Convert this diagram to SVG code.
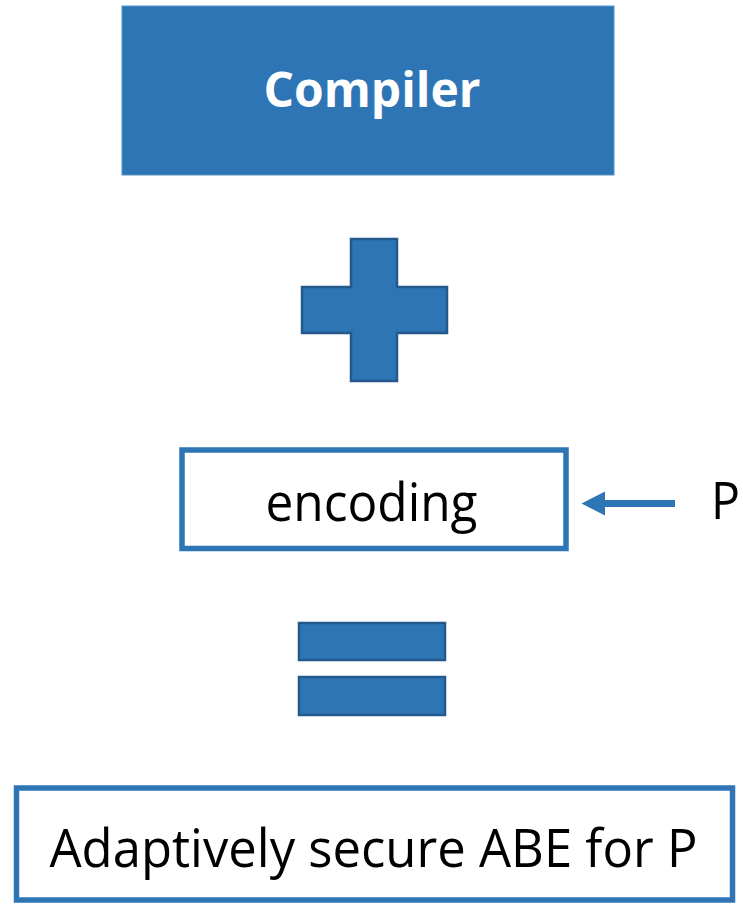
<svg xmlns="http://www.w3.org/2000/svg" width="743" height="905" viewBox="0 0 743 905">
  <style>
    .solid { fill: #2E75B6; }
    .sym { fill: #2E75B6; stroke: #23598B; stroke-width: 2.5; stroke-linejoin: miter; }
    .frame { fill: #FFFFFF; stroke: #2E75B6; stroke-width: 5.5; }
    .label { font-family: "Open Sans", "Noto Sans", "Liberation Sans", sans-serif; fill: #000000; }
    .title { font-family: "Open Sans", "Noto Sans", "Liberation Sans", sans-serif; font-weight: 700; fill: #FFFFFF; }
  </style>

  <rect x="0" y="0" width="743" height="905" fill="#FFFFFF"/>

  <!-- compiler block -->
  <g id="compiler">
    <rect class="solid" x="122" y="6" width="492" height="169" stroke="#5B93C7" stroke-width="1"/>
    <text class="title" x="372" y="107" font-size="48" text-anchor="middle" textLength="217" lengthAdjust="spacingAndGlyphs">Compiler</text>
  </g>

  <!-- plus sign -->
  <g id="plus">
    <path class="sym" d="M351,239 H397 V287 H447 V333 H397 V381 H351 V333 H302 V287 H351 Z"/>
  </g>

  <!-- encoding box -->
  <g id="encoding">
    <rect class="frame" x="182" y="450" width="384" height="98.5"/>
    <text class="label" x="371.5" y="520.5" font-size="53" text-anchor="middle" textLength="212" lengthAdjust="spacingAndGlyphs">encoding</text>
  </g>

  <!-- predicate input -->
  <g id="predicate">
    <text class="label" x="711" y="519" font-size="52" textLength="29" lengthAdjust="spacingAndGlyphs">P</text>
  </g>

  <!-- equals sign -->
  <g id="equals">
    <rect class="sym" x="299" y="623" width="146" height="37"/>
    <rect class="sym" x="299" y="677" width="146" height="38"/>
  </g>

  <!-- result box -->
  <g id="result">
    <rect class="frame" x="16.5" y="788" width="716" height="112"/>
    <text class="label" x="373.5" y="866.5" font-size="53" text-anchor="middle" textLength="648" lengthAdjust="spacingAndGlyphs">Adaptively secure ABE for P</text>
  </g>

  <!-- connectors -->
  <g id="connectors">
    <path d="M675,503.5 H604" stroke="#2E75B6" stroke-width="7" fill="none"/>
    <path d="M581.5,503.5 L605,491.5 L605,515.5 Z" fill="#2E75B6"/>
  </g>
</svg>
